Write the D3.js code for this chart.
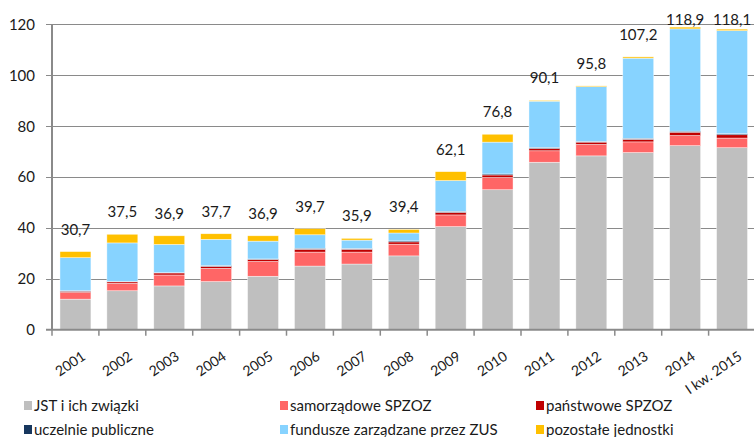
<!DOCTYPE html>
<html>
<head>
<meta charset="utf-8">
<script src="https://d3js.org/d3.v7.min.js"></script>
<style>
  body { margin: 0; background: #fff; }
  svg text { font-family: Lato, "Liberation Sans", sans-serif; fill: #1a1a1a; }
</style>
</head>
<body>
<div id="chart"></div>
<script>
// categories and stacked series
var years = ["2001", "2002", "2003", "2004", "2005", "2006", "2007", "2008",
             "2009", "2010", "2011", "2012", "2013", "2014", "I kw. 2015"];
var jst        = [12.0, 15.3, 17.2, 18.9, 21.0, 25.0, 25.8, 29.0, 40.5, 55.0, 65.8, 68.3, 69.6, 72.3, 71.5];
var samorz     = [ 2.6,  2.9,  4.3,  5.2,  5.8,  5.5,  4.7,  4.6,  4.6,  4.8,  4.5,  4.5,  4.2,  4.0,  3.8];
var panstw     = [ 0.5,  0.6,  0.8,  0.8,  0.8,  1.1,  1.1,  0.9,  1.0,  1.0,  0.9,  0.9,  1.0,  1.3,  1.3];
var uczelnie   = [ 0.2,  0.2,  0.1,  0.3,  0.2,  0.4,  0.3,  0.4,  0.4,  0.4,  0.4,  0.3,  0.4,  0.4,  0.4];
var zus        = [13.0, 15.1, 11.1, 10.3,  7.0,  5.3,  3.3,  3.1, 12.1, 12.5, 18.2, 21.5, 31.5, 40.2, 40.5];
var pozostale  = [ 2.4,  3.4,  3.4,  2.2,  2.1,  2.4,  0.7,  1.4,  3.5,  3.1,  0.3,  0.3,  0.5,  0.7,  0.6];
var totals     = ["30,7", "37,5", "36,9", "37,7", "36,9", "39,7", "35,9", "39,4",
                  "62,1", "76,8", "90,1", "95,8", "107,2", "118,9", "118,1"];
var yTicks = [0, 20, 40, 60, 80, 100, 120];

var seriesNames = ["JST i ich związki", "samorządowe SPZOZ", "państwowe SPZOZ",
                   "uczelnie publiczne", "fundusze zarządzane przez ZUS", "pozostałe jednostki"];
var seriesColors = ["#BFBFBF", "#FF6666", "#C00000", "#17375E", "#87D3FF", "#FFC000"];
var seriesValues = [jst, samorz, panstw, uczelnie, zus, pozostale];

var width = 754, height = 437;
var margin = {top: 24.3, left: 52, bottom: 107};

var svg = d3.select('#chart').append('svg')
  .attr('width', width)
  .attr('height', height);

var x = d3.scaleBand()
  .domain(years)
  .range([margin.left, 755.5])
  .paddingInner(0.34)
  .paddingOuter(0.17);

var y = d3.scaleLinear()
  .domain([0, 120])
  .range([height - margin.bottom - 0.3, margin.top]);

// build rows for the stack
var rows = years.map(function(yr, i) {
  var r = {year: yr, label: totals[i]};
  seriesNames.forEach(function(s, k) { r[s] = seriesValues[k][i]; });
  r.total = d3.sum(seriesValues, function(v) { return v[i]; });
  return r;
});

var stacked = d3.stack().keys(seriesNames)(rows);

// gridlines
svg.append('g')
  .selectAll('line')
  .data(yTicks.slice(1))
  .enter().append('line')
  .attr('x1', margin.left - 6)
  .attr('x2', width)
  .attr('y1', function(d) { return Math.round(y(d)) + 0.5; })
  .attr('y2', function(d) { return Math.round(y(d)) + 0.5; })
  .attr('stroke', '#8a8a8a')
  .attr('stroke-width', 1.2);

// y tick labels
svg.append('g')
  .selectAll('text')
  .data(yTicks)
  .enter().append('text')
  .attr('x', 35)
  .attr('y', function(d) { return y(d); })
  .attr('dy', '0.36em')
  .attr('text-anchor', 'end')
  .style('font-size', '15px')
  .text(function(d) { return d; });

// bars
svg.append('g')
  .selectAll('g')
  .data(stacked)
  .enter().append('g')
  .attr('fill', function(d, i) { return seriesColors[i]; })
  .selectAll('rect')
  .data(function(d) { return d; })
  .enter().append('rect')
  .attr('x', function(d) { return x(d.data.year); })
  .attr('width', x.bandwidth())
  .attr('y', function(d) { return y(d[1]); })
  .attr('height', function(d) { return y(d[0]) - y(d[1]); })
  .attr('stroke', '#ffffff')
  .attr('stroke-width', 0.6)
  .attr('stroke-opacity', 0.7);

// y axis line
svg.append('line')
  .attr('x1', margin.left).attr('x2', margin.left)
  .attr('y1', y(120)).attr('y2', y(0))
  .attr('stroke', '#8a8a8a')
  .attr('stroke-width', 2);

// x axis line and ticks between categories
svg.append('line')
  .attr('x1', margin.left - 6).attr('x2', width)
  .attr('y1', y(0)).attr('y2', y(0))
  .attr('stroke', '#8a8a8a')
  .attr('stroke-width', 2);

var step = x.step();
svg.append('g')
  .selectAll('line')
  .data(years)
  .enter().append('line')
  .attr('x1', function(d) { return x(d) - x.paddingInner() * step / 2; })
  .attr('x2', function(d) { return x(d) - x.paddingInner() * step / 2; })
  .attr('y1', y(0))
  .attr('y2', y(0) + 6)
  .attr('stroke', '#8a8a8a')
  .attr('stroke-width', 1.5);

// x labels, rotated
svg.append('g')
  .selectAll('text')
  .data(years)
  .enter().append('text')
  .attr('text-anchor', 'end')
  .style('font-size', '14px')
  .attr('transform', function(d) {
    var cx = x(d) + x.bandwidth() / 2 + 11;
    return 'translate(' + cx + ',' + (y(0) + 29) + ') rotate(-34)';
  })
  .text(function(d) { return d; });

// total labels above the bars
svg.append('g')
  .selectAll('text')
  .data(rows)
  .enter().append('text')
  .attr('x', function(d) { return x(d.year) + x.bandwidth() / 2; })
  .attr('y', function(d) { return Math.max(y(d.total) - 17, 24.5); })
  .attr('text-anchor', 'middle')
  .style('font-size', '15px')
  .text(function(d) { return d.label; });

// legend: 3 columns x 2 rows
var legendX = [24, 280, 536];
var legendY = [406, 430];
var legend = svg.append('g')
  .selectAll('g')
  .data(seriesNames)
  .enter().append('g')
  .attr('transform', function(d, i) {
    return 'translate(' + legendX[i % 3] + ',' + legendY[Math.floor(i / 3)] + ')';
  });

legend.append('rect')
  .attr('x', 0).attr('y', -5)
  .attr('width', 8).attr('height', 9)
  .attr('fill', function(d, i) { return seriesColors[i]; });

legend.append('text')
  .attr('x', 10)
  .attr('y', 0)
  .attr('dy', '0.36em')
  .style('font-size', '15px')
  .text(function(d) { return d; });
</script>
</body>
</html>
